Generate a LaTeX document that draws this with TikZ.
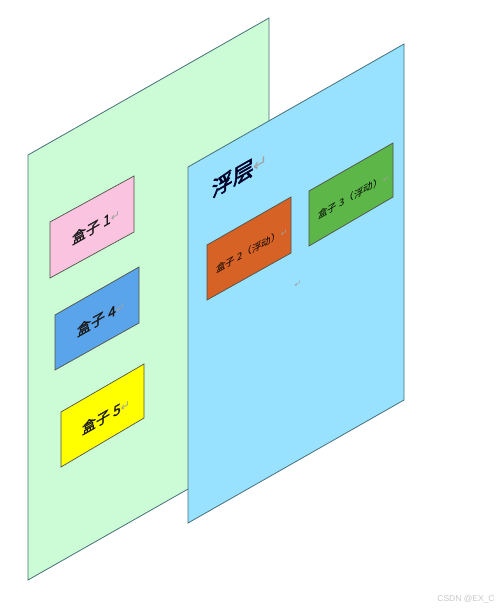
\documentclass[tikz,border=0pt]{standalone}
\usepackage{fontspec}
\newfontfamily\cjk{Noto Sans CJK SC}
\newfontfamily\cjkmed{Noto Sans CJK SC}[FakeBold=1.2]
\newfontfamily\cjkhead{Noto Sans CJK SC}[FakeBold=2.6]
\newfontfamily\dejavu{DejaVu Sans}
\newfontfamily\wmfont{Liberation Sans}
\definecolor{planegreen}{RGB}{204,252,214}
\definecolor{planeblue}{RGB}{153,226,255}
\definecolor{planeedge}{RGB}{70,112,122}
\definecolor{boxpink}{RGB}{250,196,224}
\definecolor{boxblue}{RGB}{90,164,235}
\definecolor{boxyellow}{RGB}{255,255,0}
\definecolor{boxorange}{RGB}{214,98,38}
\definecolor{boxgreen}{RGB}{92,182,72}
\definecolor{boxedge}{RGB}{80,82,72}
\definecolor{retgray}{RGB}{160,160,160}
\definecolor{wmgray}{RGB}{200,200,200}
\newcommand{\retmark}[1]{{\color{retgray}\dejavu\fontsize{#1}{#1}\selectfont ↵}}
\begin{document}
\begin{tikzpicture}[x=1pt,y=-1pt,
  plane/.style={draw=planeedge,line width=0.8pt,line join=miter},
  boxshape/.style={draw=boxedge,line width=0.7pt},
  bigtxt/.style={inner sep=0pt,font=\cjkhead\fontsize{21}{21}\selectfont,text=black!85!blue},
  midtxt/.style={inner sep=0pt,font=\cjkmed\fontsize{14}{14}\selectfont,text=black!90},
  smalltxt/.style={inner sep=0pt,font=\cjk\fontsize{9.5}{9.5}\selectfont,text=black},
  wm/.style={inner sep=0pt,font=\wmfont\fontsize{8.5}{8.5}\selectfont,text=wmgray}]
\useasboundingbox (0,0) rectangle (500,608);
\fill[white] (0,0) rectangle (500,608);
% planes
\draw[plane,fill=planegreen] (28,155) -- (269,18) -- (269,443) -- (28,580) -- cycle;
\draw[plane,fill=planeblue] (188,167) -- (404,44) -- (404,400) -- (188,523) -- cycle;
% boxes
\draw[boxshape,fill=boxpink] (50,222) -- (134,176) -- (134,232) -- (50,278) -- cycle;
\draw[boxshape,fill=boxblue] (55,315) -- (139,267) -- (139,323) -- (55,370) -- cycle;
\draw[boxshape,fill=boxyellow] (61,412) -- (144,364) -- (144,418) -- (61,467) -- cycle;
\draw[boxshape,fill=boxorange] (207,245) -- (291,197) -- (291,253) -- (207,300) -- cycle;
\draw[boxshape,fill=boxgreen] (309,191) -- (393,143) -- (393,197) -- (309,246) -- cycle;
% texts
\begin{scope}[shift={(240,174)},yslant=0.57]
  \node[bigtxt,transform shape] (title) at (0,0) {浮层\retmark{17}};
\end{scope}
\begin{scope}[shift={(96,226)},yslant=0.57]
  \node[midtxt,transform shape] (b1) at (0,0) {盒子 1\retmark{11}};
\end{scope}
\begin{scope}[shift={(101,318)},yslant=0.57]
  \node[midtxt,transform shape] (b4) at (0,0) {盒子 4\retmark{11}};
\end{scope}
\begin{scope}[shift={(106,416)},yslant=0.57]
  \node[midtxt,transform shape] (b5) at (0,0) {盒子 5\retmark{11}};
\end{scope}
\begin{scope}[shift={(252,250)},yslant=0.57]
  \node[smalltxt,transform shape] (b2) at (0,0) {盒子 2（浮动）\retmark{8}};
\end{scope}
\begin{scope}[shift={(354,196)},yslant=0.57]
  \node[smalltxt,transform shape] (b3) at (0,0) {盒子 3（浮动）\retmark{8}};
\end{scope}
\begin{scope}[shift={(298,284)},yslant=0.57]
  \node[inner sep=0pt,transform shape] (r0) at (0,0) {\retmark{8}};
\end{scope}
\node[wm] (wmark) at (466,599) {CSDN @EX\_C};
\end{tikzpicture}
\end{document}
